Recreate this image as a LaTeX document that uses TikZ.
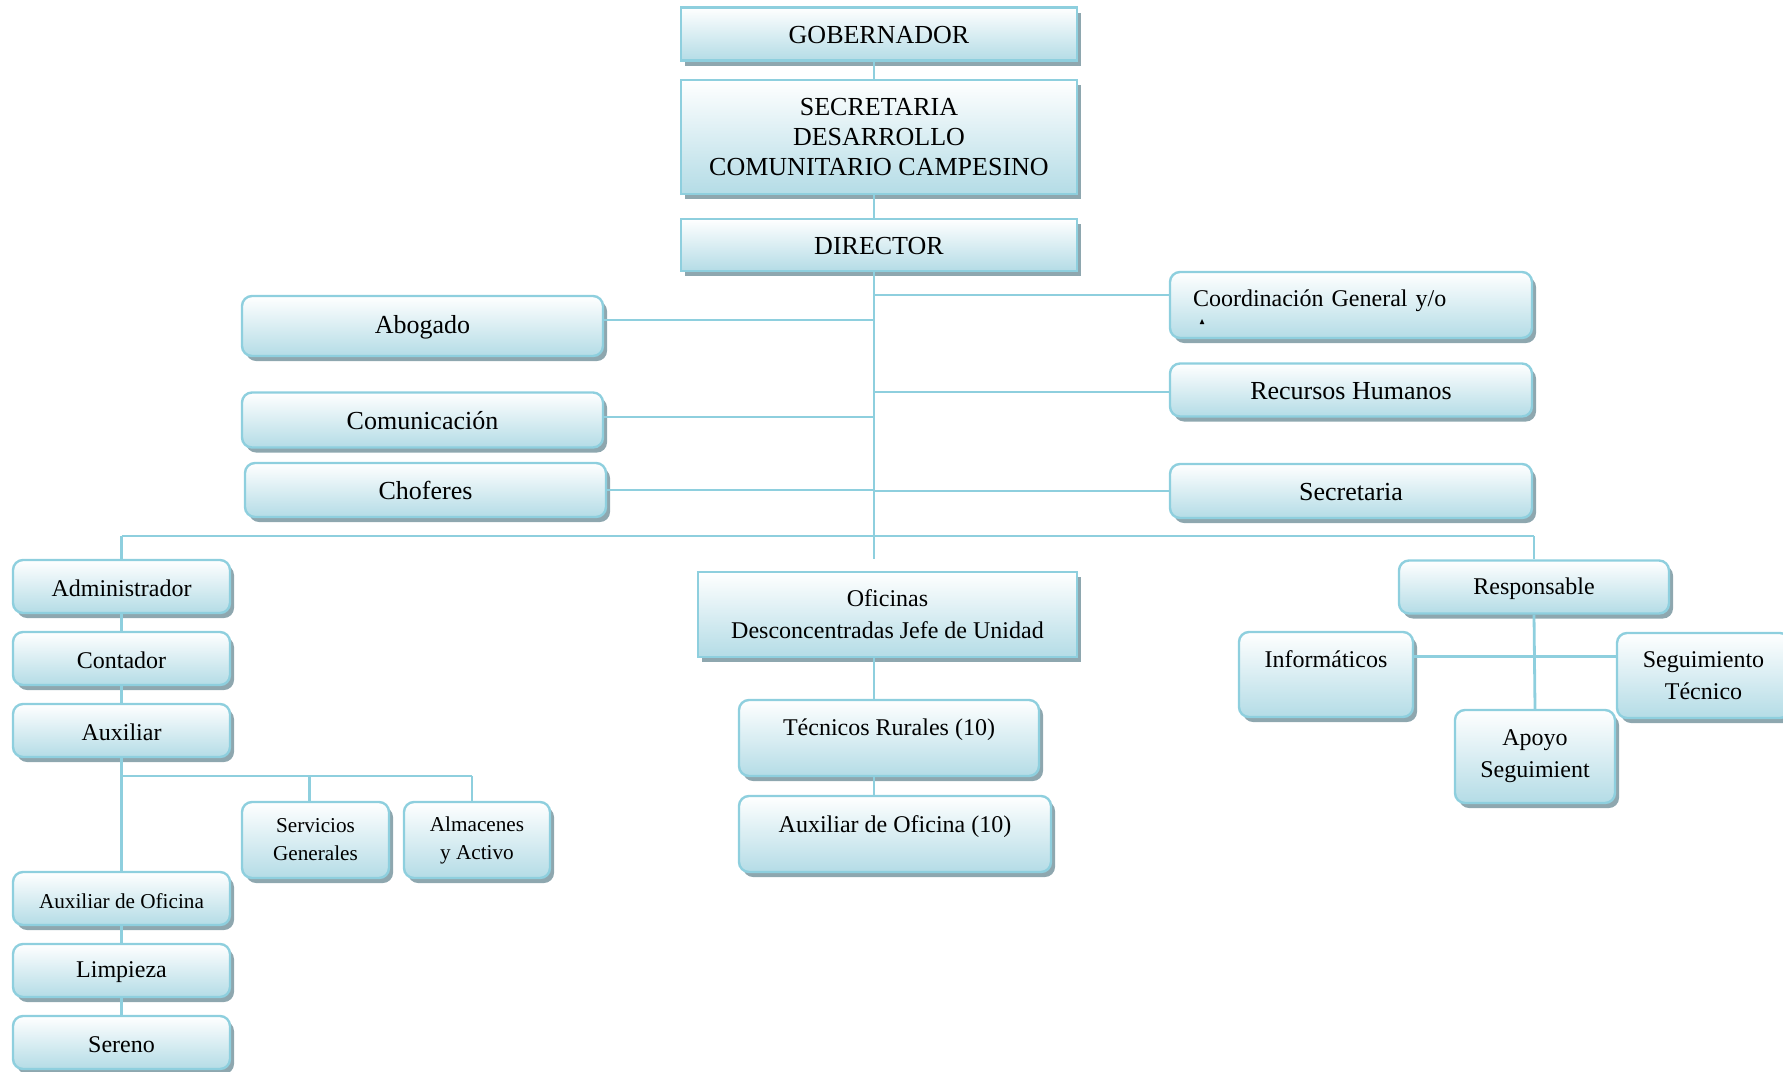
\documentclass[tikz,border=0pt]{standalone}
\usepackage{fontspec}
\setmainfont{Liberation Serif}
\usepackage{amssymb}
\usepackage{tikz}
\usetikzlibrary{shadows}
\definecolor{lineblue}{HTML}{8ECFDE}
\definecolor{fillblue}{HTML}{B4DCE6}
\definecolor{shadowgray}{HTML}{8EA7AF}
\tikzstyle{box} = [draw=lineblue, line width=1.2pt, top color=white, bottom color=fillblue, drop shadow={shadow xshift=2pt, shadow yshift=-2.5pt, fill=shadowgray, opacity=1}, align=center, inner sep=2pt]
\tikzstyle{rbox} = [box, rounded corners=5pt]
\tikzstyle{one} = [text height=10pt]
\tikzstyle{link} = [draw=lineblue, line width=1.4pt]
\tikzstyle{txtl} = [font=\fontsize{13}{15}\selectfont]
\tikzstyle{txtm} = [font=\fontsize{12}{16}\selectfont]
\tikzstyle{txts} = [font=\fontsize{10.6}{14}\selectfont]

\begin{document}
\begin{tikzpicture}[x=0.5pt, y=-0.5pt]
\useasboundingbox (0,0) rectangle (1783,1071);

% cabeza
\node[box, txtl, one, minimum width=198pt, minimum height=26.5pt] (gob) at (879,34) {GOBERNADOR};
\node[box, txtl, minimum width=198pt, minimum height=57pt] (secr) at (879,137) {SECRETARIA\\DESARROLLO\\COMUNITARIO CAMPESINO};
\node[box, txtl, one, minimum width=198pt, minimum height=26pt] (dir) at (879,245) {DIRECTOR};

% staff
\node[rbox, txtl, one, minimum width=180.5pt, minimum height=30pt] (abog) at (422.5,326) {Abogado};
\node[rbox, txtl, one, minimum width=180.5pt, minimum height=27.5pt] (comu) at (422.5,420) {Comunicación};
\node[rbox, txtl, one, minimum width=180.5pt, minimum height=27pt] (chof) at (425.5,490) {Choferes};
\node[rbox, txtm, one, text depth=9pt, align=left, text width=158pt, inner xsep=11.5pt, minimum height=33pt] (coord) at (1351,305) {\rlap{\hspace{3pt}\smash{\raisebox{-9pt}{\scalebox{0.35}{$\blacktriangle$}}}}Coordinación General y/o};
\node[rbox, txtl, one, minimum width=181pt, minimum height=26.5pt] (rrhh) at (1351,390) {Recursos Humanos};
\node[rbox, txtl, one, minimum width=181pt, minimum height=27pt] (secre) at (1351,491) {Secretaria};

% administracion
\node[rbox, txtm, one, minimum width=108.5pt, minimum height=26.5pt] (admin) at (121.5,586.5) {Administrador};
\node[rbox, txtm, one, minimum width=108.5pt, minimum height=26.5pt] (cont) at (121.5,658.5) {Contador};
\node[rbox, txtm, one, minimum width=108.5pt, minimum height=26.5pt] (aux) at (121.5,730.5) {Auxiliar};
\node[rbox, txts, one, minimum width=108.5pt, minimum height=26.5pt] (auxof) at (121.5,898.5) {Auxiliar de Oficina};
\node[rbox, txtm, one, minimum width=108.5pt, minimum height=26.5pt] (limp) at (121.5,970.5) {Limpieza};
\node[rbox, txtm, one, minimum width=108.5pt, minimum height=26.5pt] (seren) at (121.5,1042.5) {Sereno};
\node[rbox, txts, minimum width=73.5pt, minimum height=38pt] (serv) at (315.5,840) {Servicios\\Generales};
\node[rbox, txts, minimum width=73pt, minimum height=38pt] (alm) at (477,840) {Almacenes\\y Activo};

% oficinas
\node[box, txtm, minimum width=189.5pt, minimum height=42.5pt] (ofic) at (887.5,614.5) {Oficinas\\Desconcentradas Jefe de Unidad};
\node[rbox, txtm, one, minimum width=150pt, minimum height=38pt, text depth=13pt] (tecn) at (889,738) {Técnicos Rurales (10)};
\node[rbox, txtm, one, minimum width=156pt, minimum height=38pt, text depth=12pt] (auxd) at (895,834) {Auxiliar de Oficina (10)};

% responsable
\node[rbox, txtm, one, minimum width=135pt, minimum height=26.5pt] (resp) at (1534,587) {Responsable};
\node[rbox, txtm, one, minimum width=87pt, minimum height=42.5pt, text depth=17pt] (info) at (1326,674.5) {Informáticos};
\node[rbox, txtm, minimum width=86.5pt, minimum height=42.5pt] (segt) at (1703.5,675.5) {Seguimiento\\Técnico};
\node[rbox, txtm, minimum width=80pt, minimum height=46.5pt] (apoy) at (1535,756.5) {Apoyo\\Seguimient};

% conectores
\coordinate (trunk) at (874,559);
\coordinate (busl) at (121.5,536);
\coordinate (busr) at (1534,536);
\coordinate (subr) at (472,776);

\draw[link] (gob.south -| trunk) -- (secr.north -| trunk);
\draw[link] (secr.south -| trunk) -- (dir.north -| trunk);
\draw[link] (dir.south -| trunk) -- (trunk);
\draw[link] ([yshift=3pt]abog.east) -- ([yshift=3pt]abog.east -| trunk);
\draw[link] ([yshift=1.5pt]comu.east) -- ([yshift=1.5pt]comu.east -| trunk);
\draw[link] (chof.east) -- (chof.east -| trunk);
\draw[link] ([yshift=5pt]coord.west) -- ([yshift=5pt]coord.west -| trunk);
\draw[link] ([yshift=-1pt]rrhh.west) -- ([yshift=-1pt]rrhh.west -| trunk);
\draw[link] (secre.west) -- (secre.west -| trunk);
\draw[link] (busl) -- (busr);

\draw[link] (busl) -- (admin.north);
\draw[link] (admin) -- (cont);
\draw[link] (cont) -- (aux);
\draw[link] (aux.south) -- (auxof.north);
\draw[link] (auxof) -- (limp);
\draw[link] (limp) -- (seren);
\draw[link] (aux.south |- subr) -- (subr);
\draw[link] ([xshift=-3pt]serv.north) -- ([xshift=-3pt]serv.north |- subr);
\draw[link] (subr) -- (alm.north -| subr);

\draw[link] (ofic.south -| trunk) -- (tecn.north -| trunk);
\draw[link] (tecn.south -| trunk) -- (auxd.north -| trunk);

\draw[link] (busr) -- (resp.north);
\draw[link] (resp.south) -- (apoy.north);
\draw[link] ([yshift=9pt]info.east) -- ([yshift=9pt]info.east -| segt.west);

\end{tikzpicture}
\end{document}
